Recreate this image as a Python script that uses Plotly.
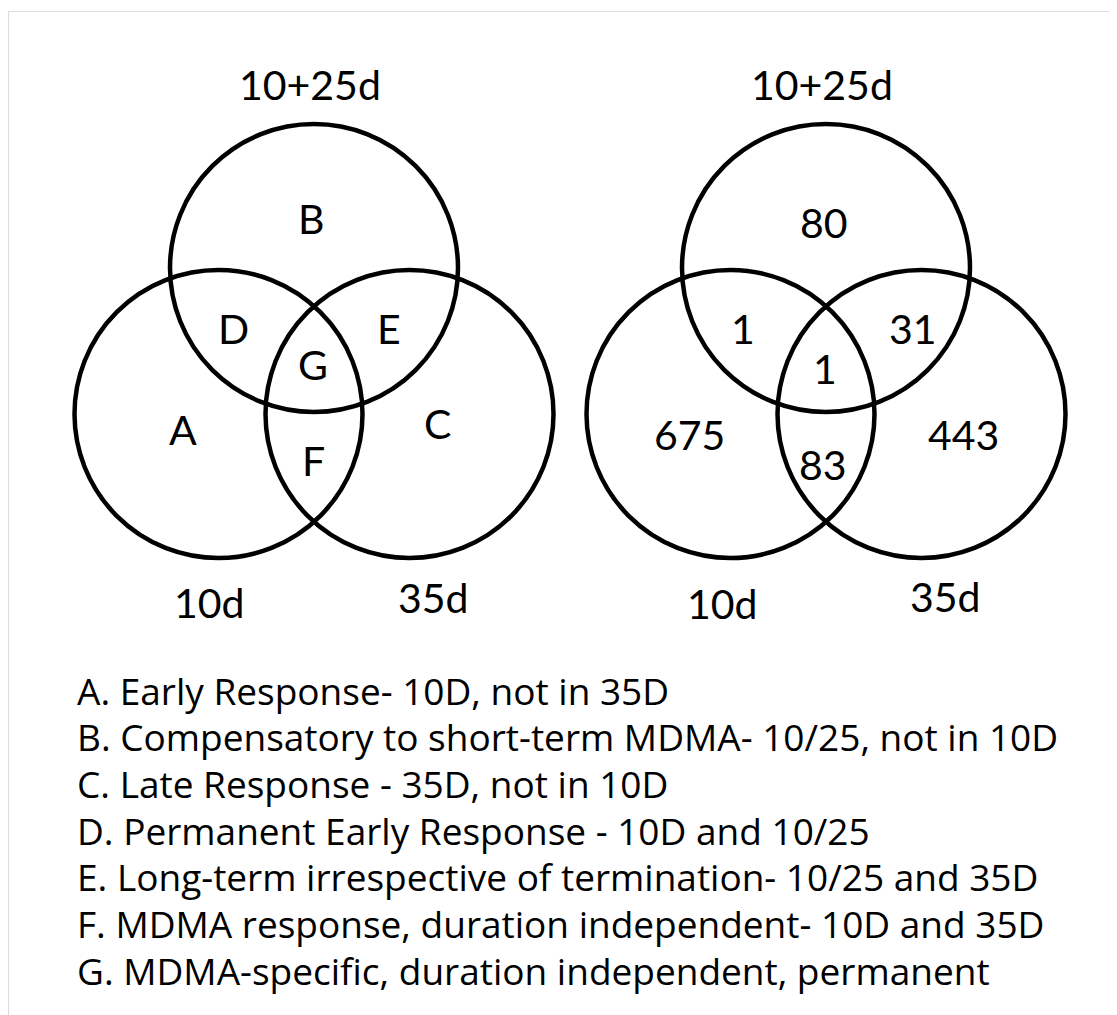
import plotly.graph_objects as go

# ---- data ----
set_names = ["10+25d", "10d", "35d"]
region_letters = ["A", "B", "C", "D", "E", "F", "G"]
region_counts = [675, 80, 443, 1, 31, 83, 1]
descriptions = [
    "A. Early Response- 10D, not in 35D",
    "B. Compensatory to short-term MDMA- 10/25, not in 10D",
    "C. Late Response - 35D, not in 10D",
    "D. Permanent Early Response - 10D and 10/25",
    "E. Long-term irrespective of termination- 10/25 and 35D",
    "F. MDMA response, duration independent- 10D and 35D",
    "G. MDMA-specific, duration independent, permanent",
]

# ---- layout constants (page-pixel coordinates) ----
W, H = 1117, 1015
PAGE_MARGIN = 8                  # default body margin of the html page
FONT = "Lato"
LEGEND_FONT = "Open Sans"
R = 144
diagram_cx = [314, 826]          # x of top circle centre
top_cy, bot_cy = 268, 414
half_sep = 95.5

# label offsets relative to top-circle centre x, per diagram
letter_pos = {
    "A": (-131, 429), "B": (-3, 218), "C": (123, 423), "D": (-81, 328),
    "E": (75, 328), "F": (-1, 460), "G": (-1, 364),
}
count_pos = {
    "A": (-137, 434), "B": (-2, 222), "C": (137, 434), "D": (-83, 328),
    "E": (87, 328), "F": (-3, 464), "G": (-1, 368),
}
set_pos = [[(-4, 84), (-105, 602), (119, 597)],
           [(-4, 84), (-104, 603), (119, 596)]]

fig = go.Figure()
fig.add_trace(go.Scatter(x=[PAGE_MARGIN, W], y=[PAGE_MARGIN, H], mode="markers",
                         marker=dict(opacity=0), hoverinfo="skip", showlegend=False))

shapes = []
# light border box
shapes.append(dict(type="rect", xref="x", yref="y", x0=8.5, y0=11.5, x1=W + 20, y1=H + 20,
                   line=dict(color="#dddddd", width=1.2), fillcolor="rgba(0,0,0,0)", layer="below"))

for cx in diagram_cx:
    centres = [(cx, top_cy), (cx - half_sep, bot_cy), (cx + half_sep, bot_cy)]
    for (x, y) in centres:
        shapes.append(dict(type="circle", xref="x", yref="y",
                           x0=x - R, x1=x + R, y0=y - R, y1=y + R,
                           line=dict(color="black", width=4.5), fillcolor="rgba(0,0,0,0)"))

annotations = []
def txt(x, y, s, size, anchor="center", family=FONT):
    annotations.append(dict(x=x, y=y, xref="x", yref="y", text=s, showarrow=False,
                            xanchor=anchor, yanchor="middle",
                            font=dict(family=family, size=size, color="black")))

for d, cx in enumerate(diagram_cx):
    for name, (dx, y) in zip(set_names, set_pos[d]):
        txt(cx + dx, y, name, 41)
for letter, count in zip(region_letters, region_counts):
    dx, y = letter_pos[letter]
    txt(diagram_cx[0] + dx, y, letter, 41)
    dx, y = count_pos[letter]
    txt(diagram_cx[1] + dx, y, str(count), 41)

first_line_y, step = 690, 46.7
for i, line in enumerate(descriptions):
    txt(75, first_line_y + i * step, line, 37, anchor="left", family=LEGEND_FONT)

fig.update_layout(
    width=W - PAGE_MARGIN, height=H - PAGE_MARGIN, margin=dict(l=0, r=0, t=0, b=0),
    paper_bgcolor="white", plot_bgcolor="white",
    xaxis=dict(range=[PAGE_MARGIN, W], visible=False, fixedrange=True),
    yaxis=dict(range=[H, PAGE_MARGIN], visible=False, fixedrange=True),
    shapes=shapes, annotations=annotations, showlegend=False,
)
fig.write_html("out.html", config={"displayModeBar": False})
